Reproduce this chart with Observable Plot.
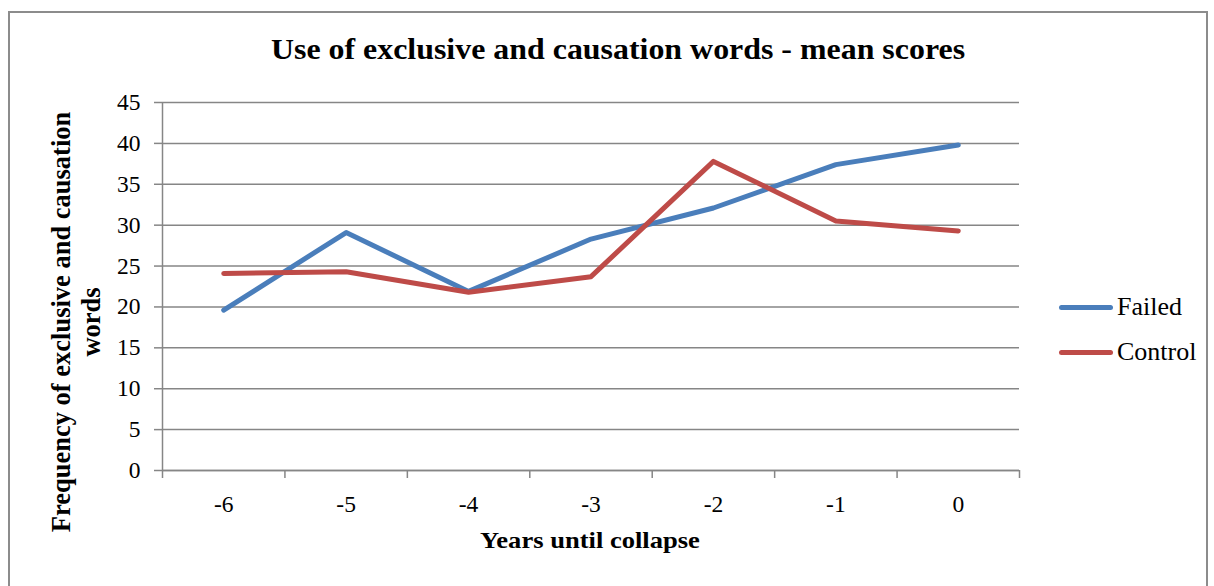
<!DOCTYPE html>
<html>
<head>
<meta charset="utf-8">
<script src="https://cdn.jsdelivr.net/npm/d3@7"></script>
<script src="https://cdn.jsdelivr.net/npm/@observablehq/plot@0.6"></script>
<style>
  html, body { margin: 0; padding: 0; background: #fff; }
  #wrap { position: relative; width: 1214px; height: 586px; overflow: hidden; font-family: "Liberation Serif", "Times New Roman", serif; color: #000; }
  #frame { position: absolute; left: 8px; top: 11px; width: 1200px; height: 620px; border: 2px solid #8c8c8c; box-sizing: border-box; }
  #chart { position: absolute; left: 0; top: 0; }
  #chart svg, #chart svg text { font-family: "Liberation Serif", "Times New Roman", serif !important; }
  .txt { position: absolute; white-space: nowrap; line-height: 1; }
  #title { left: 618px; top: 35px; font-size: 29px; font-weight: bold; transform: translateX(-50%) scaleX(1.1); }
  #xtitle { left: 590px; top: 529px; font-size: 23.5px; font-weight: bold; transform: translateX(-50%) scaleX(1.13); }
  #ytitle { left: 76px; top: 322px; font-size: 26.5px; font-weight: bold; text-align: center; line-height: 30px; transform: translate(-50%, -50%) rotate(-90deg); }
  .legend-item { position: absolute; left: 1059px; display: flex; align-items: center; height: 30px; }
  .legend-item .sw { width: 54px; height: 5px; border-radius: 3px; }
  .legend-item span { font-size: 26px; margin-left: 4px; line-height: 1; }
</style>
</head>
<body>
<div id="wrap">
  <div id="frame"></div>
  <div id="chart"></div>
  <div id="title" class="txt">Use of exclusive and causation words - mean scores</div>
  <div id="ytitle" class="txt">Frequency of exclusive and causation<br>words</div>
  <div id="xtitle" class="txt">Years until collapse</div>
  <div id="legend"></div>
</div>
<script>
// Years before collapse (categories along the x axis)
const years = [-6, -5, -4, -3, -2, -1, 0];
// Mean scores for each group
const failed = [19.6, 29.1, 21.9, 28.3, 32.1, 37.4, 39.8];
const control = [24.1, 24.3, 21.8, 23.7, 37.8, 30.5, 29.3];
// Series names and colours
const seriesNames = ["Failed", "Control"];
const seriesColors = ["#4a7ebb", "#be4b48"];
// Value axis ticks
const yTicks = [0, 5, 10, 15, 20, 25, 30, 35, 40, 45];

const rows = years.flatMap((yr, i) => [
  {year: yr, value: failed[i], series: seriesNames[0]},
  {year: yr, value: control[i], series: seriesNames[1]}
]);

// Category boundaries, where the x axis tick marks sit
const edges = years.map(y => y - 0.5).concat([years[years.length - 1] + 0.5]);

const gridColor = "#868686";
const serif = '"Liberation Serif", "Times New Roman", serif';

const chart = Plot.plot({
  width: 1214,
  height: 586,
  marginTop: 102,
  marginBottom: 116,
  marginLeft: 162,
  marginRight: 195,
  style: {
    fontFamily: serif,
    fontSize: "23.5px",
    color: "#000",
    background: "transparent",
    overflow: "visible"
  },
  x: {type: "linear", domain: [edges[0], edges[edges.length - 1]]},
  y: {domain: [0, 45]},
  color: {domain: seriesNames, range: seriesColors},
  marks: [
    Plot.gridY(yTicks, {stroke: gridColor, strokeOpacity: 1, strokeWidth: 1.5}),
    Plot.axisY(yTicks, {tickSize: 8, tickPadding: 14, stroke: gridColor, strokeWidth: 1.5, label: null, fontSize: 23.5, tickFormat: d => String(d)}),
    Plot.axisX(edges, {tickSize: 8, tickFormat: () => "", stroke: gridColor, strokeWidth: 1.5, label: null}),
    Plot.axisX(years, {tickSize: 0, tickPadding: 25, label: null, fontSize: 23.5, tickFormat: d => String(d)}),
    Plot.ruleX([edges[0]], {stroke: gridColor, strokeWidth: 1.5}),
    Plot.ruleY([0], {stroke: gridColor, strokeWidth: 1.5}),
    Plot.line(rows, {x: "year", y: "value", z: "series", stroke: "series", strokeWidth: 5, strokeLinecap: "round", strokeLinejoin: "round"})
  ]
});
document.getElementById("chart").appendChild(chart);

// Legend on the right
const legend = document.getElementById("legend");
const legendTops = [292, 337];
seriesNames.forEach((name, i) => {
  const item = document.createElement("div");
  item.className = "legend-item";
  item.style.top = legendTops[i] + "px";
  const sw = document.createElement("div");
  sw.className = "sw";
  sw.style.background = seriesColors[i];
  const label = document.createElement("span");
  label.textContent = name;
  item.appendChild(sw);
  item.appendChild(label);
  legend.appendChild(item);
});
</script>
</body>
</html>
